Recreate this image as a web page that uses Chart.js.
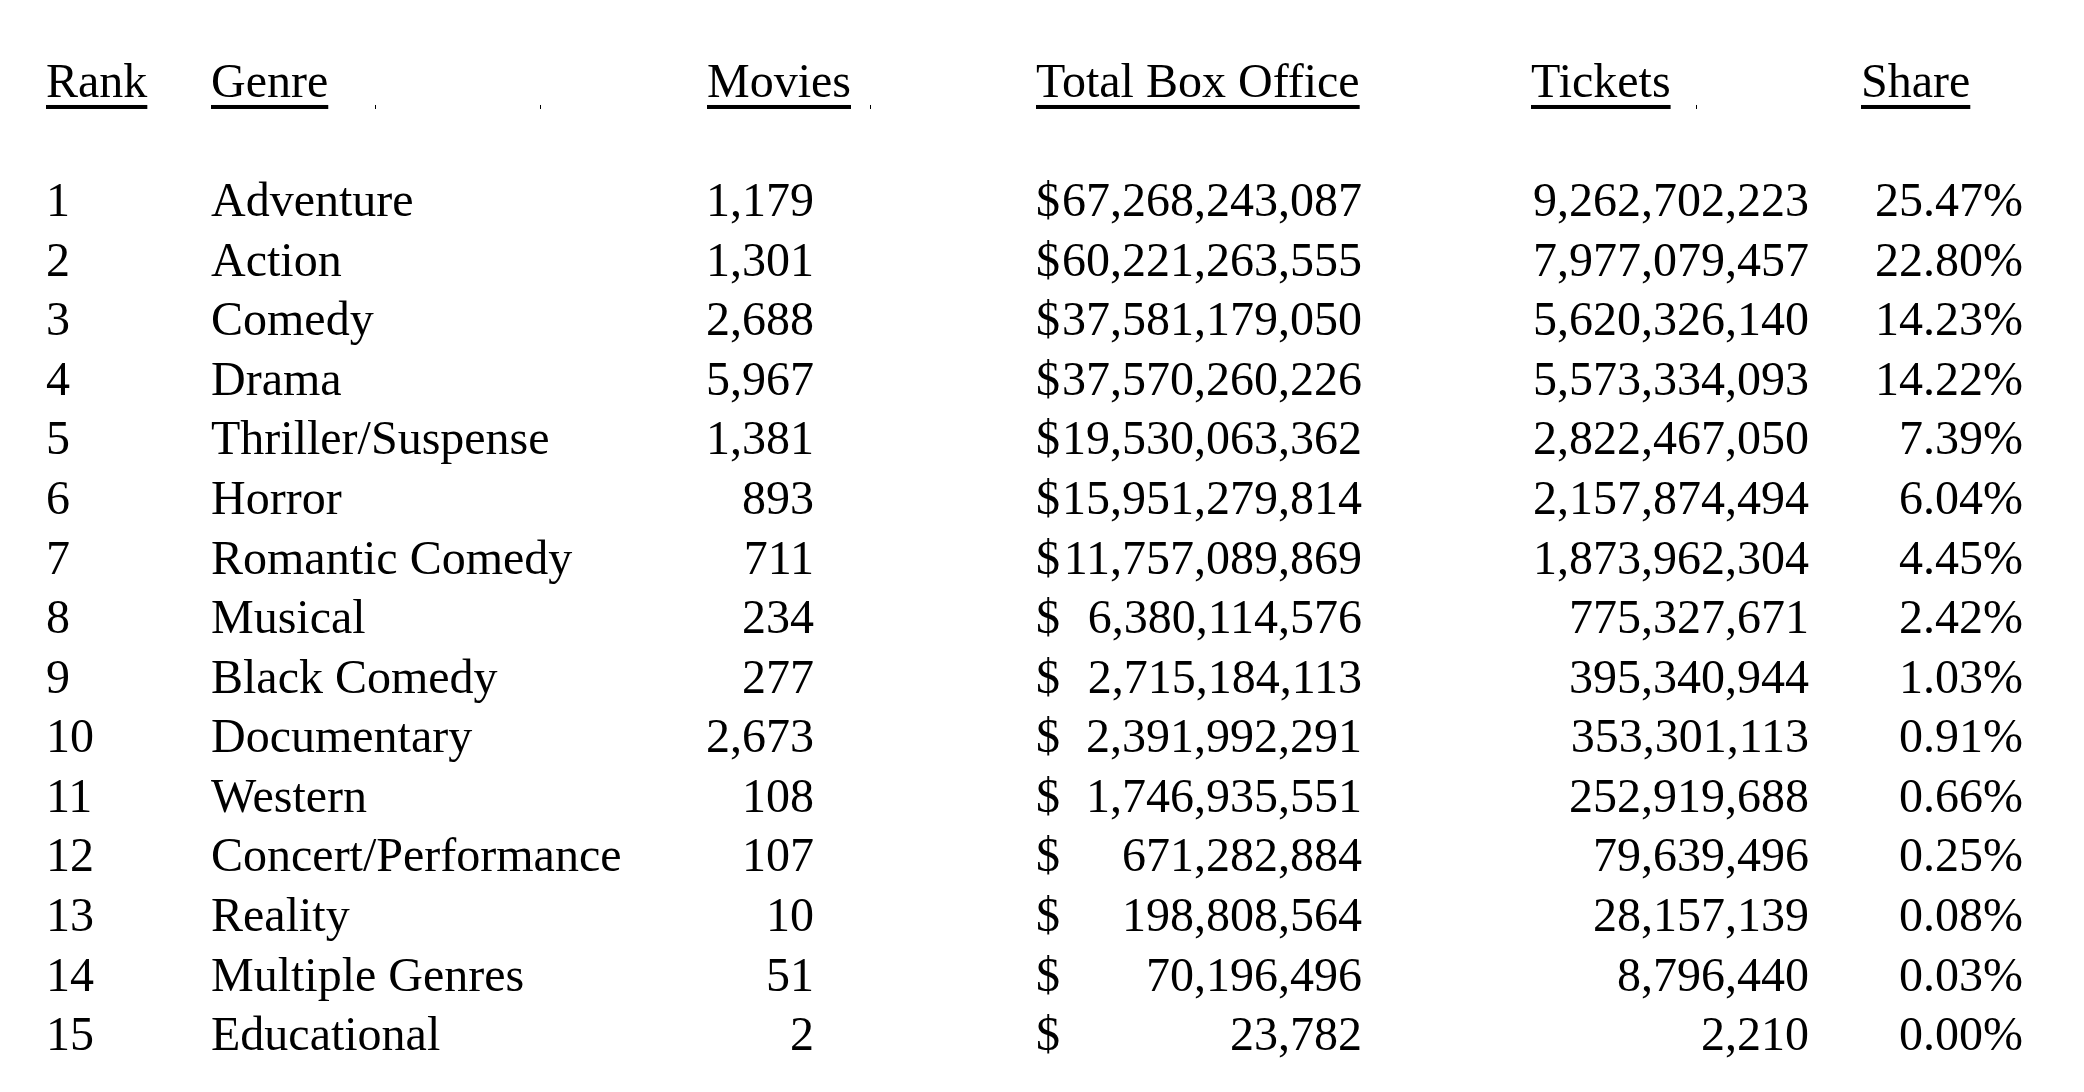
<!DOCTYPE html>
<html>
<head>
<meta charset="utf-8">
<title>Box Office by Genre</title>
<script src="https://cdn.jsdelivr.net/npm/chart.js@4.4.1/dist/chart.umd.min.js"></script>
<style>
  html, body { margin: 0; padding: 0; background: #fff; }
  #wrap { width: 2084px; height: 1092px; }
</style>
</head>
<body>
<div id="wrap"><canvas id="tableChart" width="2084" height="1092"></canvas></div>
<script>
// Table data
const headers = ['Rank', 'Genre', 'Movies', 'Total Box Office', 'Tickets', 'Share'];
const ranks = [1, 2, 3, 4, 5, 6, 7, 8, 9, 10, 11, 12, 13, 14, 15];
const genres = ['Adventure', 'Action', 'Comedy', 'Drama', 'Thriller/Suspense', 'Horror',
  'Romantic Comedy', 'Musical', 'Black Comedy', 'Documentary', 'Western',
  'Concert/Performance', 'Reality', 'Multiple Genres', 'Educational'];
const movies = [1179, 1301, 2688, 5967, 1381, 893, 711, 234, 277, 2673, 108, 107, 10, 51, 2];
const boxOffice = [67268243087, 60221263555, 37581179050, 37570260226, 19530063362,
  15951279814, 11757089869, 6380114576, 2715184113, 2391992291, 1746935551,
  671282884, 198808564, 70196496, 23782];
const tickets = [9262702223, 7977079457, 5620326140, 5573334093, 2822467050, 2157874494,
  1873962304, 775327671, 395340944, 353301113, 252919688, 79639496, 28157139, 8796440, 2210];
const share = [25.47, 22.80, 14.23, 14.22, 7.39, 6.04, 4.45, 2.42, 1.03, 0.91, 0.66,
  0.25, 0.08, 0.03, 0.00];

// Column layout (x in scale units = px, align of the cell text)
const columns = [
  { head: 46,   x: 46,   align: 'left',  text: i => String(ranks[i]) },
  { head: 211,  x: 211,  align: 'left',  text: i => genres[i] },
  { head: 707,  x: 814,  align: 'right', text: i => movies[i].toLocaleString('en-US') },
  { head: 1036, x: 1362, align: 'right', text: i => boxOffice[i].toLocaleString('en-US'), dollar: 1036 },
  { head: 1531, x: 1809, align: 'right', text: i => tickets[i].toLocaleString('en-US') },
  { head: 1861, x: 2023, align: 'right', text: i => share[i].toFixed(2) + '%' }
];
// little border stubs left under the header row
const stubs = [375, 540, 870, 1696];

const FONT = '48px "Liberation Serif", "Times New Roman", serif';
const HEADER_ROW = -2;

// one invisible point per cell, the plugin writes the text at each point
const datasets = columns.map(col => ({
  data: ranks.map((r, i) => ({ x: col.x, y: i })),
  pointRadius: 0,
  showLine: false
}));

const tablePlugin = {
  id: 'tableText',
  afterDatasetsDraw(chart) {
    const ctx = chart.ctx;
    const xs = chart.scales.x;
    const ys = chart.scales.y;
    ctx.save();
    ctx.font = FONT;
    ctx.fillStyle = '#000';
    ctx.textBaseline = 'alphabetic';

    // header with underlines
    const hy = ys.getPixelForValue(HEADER_ROW);
    headers.forEach((h, c) => {
      const hx = xs.getPixelForValue(columns[c].head);
      ctx.textAlign = 'left';
      ctx.fillText(h, hx, hy);
      const w = ctx.measureText(h).width;
      ctx.fillRect(hx, hy + 8, w, 4);
    });
    stubs.forEach(s => ctx.fillRect(Math.round(xs.getPixelForValue(s)), hy + 8, 1, 4));

    // body cells
    columns.forEach((col, c) => {
      const meta = chart.getDatasetMeta(c);
      meta.data.forEach((pt, i) => {
        ctx.textAlign = col.align;
        ctx.fillText(col.text(i), pt.x, pt.y);
        if (col.dollar !== undefined) {
          ctx.textAlign = 'left';
          ctx.fillText('$', xs.getPixelForValue(col.dollar), pt.y);
        }
      });
    });
    ctx.restore();
  }
};

const ctxTable = document.getElementById('tableChart').getContext('2d');
const tableChart = new Chart(ctxTable, {
  type: 'scatter',
  data: { datasets: datasets },
  options: {
    responsive: false,
    animation: false,
    devicePixelRatio: 1,
    layout: { padding: 0 },
    plugins: { legend: { display: false }, tooltip: { enabled: false } },
    scales: {
      x: { type: 'linear', display: false, min: 0, max: 2084 },
      y: { type: 'linear', display: false, reverse: true, min: -3.628, max: 14.703 }
    }
  },
  plugins: [tablePlugin]
});
</script>
</body>
</html>
